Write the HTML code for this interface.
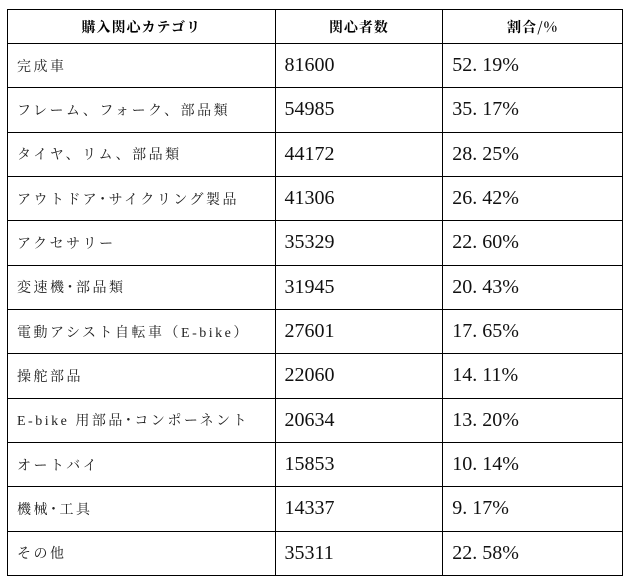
<!DOCTYPE html>
<html><head><meta charset="utf-8"><style>
body{margin:0;background:#fff;width:632px;height:585px;overflow:hidden}
table{position:absolute;left:7px;top:9px;border-collapse:collapse;width:616px}
td,th{border:1.5px solid #000;padding:0 0 0 9px;text-align:left;font-weight:normal;height:44.33px;box-sizing:border-box}
th{height:34px;text-align:center;padding:0;font-family:"Noto Serif CJK SC","Liberation Serif",serif;font-weight:bold;font-size:14px;letter-spacing:1px}
td.c{font-family:"Liberation Serif","Noto Serif CJK SC",serif;font-size:14px;letter-spacing:2.5px;color:#222}
td.n{font-family:"Liberation Serif",serif;font-size:20px;color:#111}
</style></head><body>
<table>
<colgroup><col style="width:268px"><col style="width:168px"><col style="width:180px"></colgroup>
<tr><th>購入関心カテゴリ</th><th>関心者数</th><th>割合/%</th></tr>
<tr><td class="c">完成車</td><td class="n">81600</td><td class="n">52. 19%</td></tr>
<tr><td class="c">フレーム、フォーク、部品類</td><td class="n">54985</td><td class="n">35. 17%</td></tr>
<tr><td class="c">タイヤ、リム、部品類</td><td class="n">44172</td><td class="n">28. 25%</td></tr>
<tr><td class="c">アウトドア･サイクリング製品</td><td class="n">41306</td><td class="n">26. 42%</td></tr>
<tr><td class="c">アクセサリー</td><td class="n">35329</td><td class="n">22. 60%</td></tr>
<tr><td class="c">変速機･部品類</td><td class="n">31945</td><td class="n">20. 43%</td></tr>
<tr><td class="c">電動アシスト自転車（E-bike）</td><td class="n">27601</td><td class="n">17. 65%</td></tr>
<tr><td class="c">操舵部品</td><td class="n">22060</td><td class="n">14. 11%</td></tr>
<tr><td class="c">E-bike 用部品･コンポーネント</td><td class="n">20634</td><td class="n">13. 20%</td></tr>
<tr><td class="c">オートバイ</td><td class="n">15853</td><td class="n">10. 14%</td></tr>
<tr><td class="c">機械･工具</td><td class="n">14337</td><td class="n">9. 17%</td></tr>
<tr><td class="c">その他</td><td class="n">35311</td><td class="n">22. 58%</td></tr>
</table>
</body></html>
